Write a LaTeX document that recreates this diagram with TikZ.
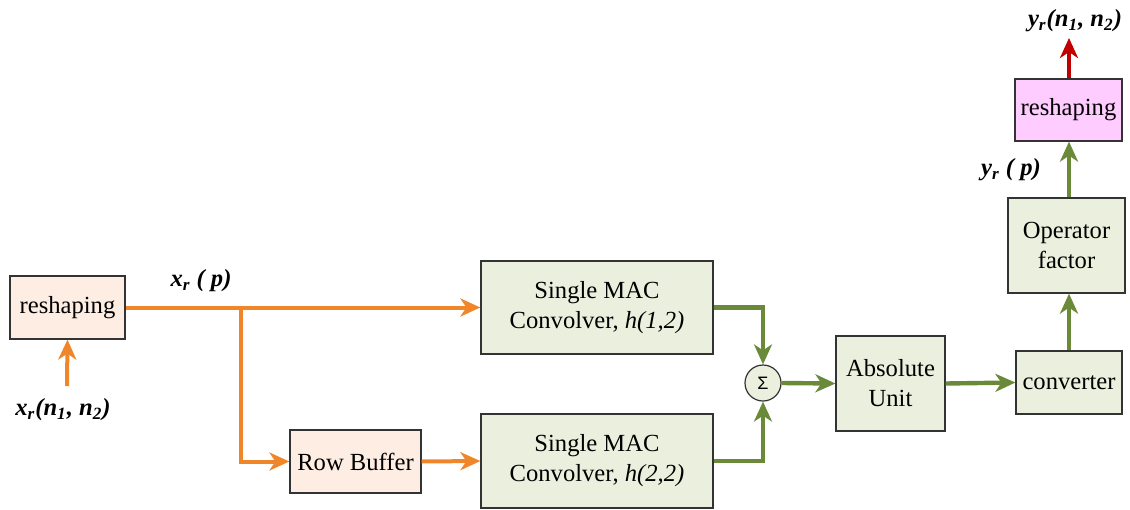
\documentclass[tikz,border=0pt]{standalone}
\usepackage{fontspec}
\setmainfont{Liberation Serif}
\newfontfamily\sigmafont{Liberation Sans}
\usetikzlibrary{arrows.meta}

\definecolor{orangeline}{HTML}{F0862A}
\definecolor{greenline}{HTML}{6A8A3A}
\definecolor{peachfill}{HTML}{FDEDE2}
\definecolor{sagefill}{HTML}{EBF0DE}
\definecolor{pinkfill}{HTML}{FFCCFF}
\definecolor{redline}{HTML}{C00000}

\begin{document}
\begin{tikzpicture}[x=0.5pt,y=-0.5pt,
        font=\fontsize{12.3}{15}\selectfont,
        block/.style={draw=black!80,line width=0.6pt,align=center,inner sep=0pt},
        inblock/.style={block,fill=peachfill},
        macblock/.style={block,fill=sagefill},
        outblock/.style={block,fill=pinkfill},
        sumnode/.style={draw=black!80,circle,line width=0.6pt,fill=sagefill,minimum size=18pt,inner sep=0pt},
        orangearrow/.style={orangeline,line width=2pt,-{Stealth[length=10pt,width=9pt,inset=3pt]}},
        greenarrow/.style={greenline,line width=2.2pt,-{Stealth[length=10pt,width=9pt,inset=3pt]}},
        redarrow/.style={redline,line width=2.2pt,-{Stealth[length=10pt,width=9pt,inset=3pt]}},
        siglabel/.style={font=\fontsize{12.3}{15}\selectfont\bfseries\itshape}
    ]
    \useasboundingbox (0,0) rectangle (1130,509);

    % blocks
    \node[inblock,minimum width=57.5pt,minimum height=31.5pt] (reshapeIn) at (67.5,307.5) {reshaping};
    \node[inblock,minimum width=65.5pt,minimum height=31.5pt] (rowbuf) at (355.5,461.5) {Row Buffer};
    \node[macblock,minimum width=116pt,minimum height=46.5pt] (macA) at (597,307.5) {Single MAC\\Convolver, \textit{h(1,2)}};
    \node[macblock,minimum width=116pt,minimum height=47pt] (macB) at (597,461) {Single MAC\\Convolver, \textit{h(2,2)}};
    \node[sumnode] (sum) at (763,383) {\sigmafont\fontsize{9}{9}\selectfont Σ};
    \node[macblock,minimum width=54.5pt,minimum height=47.5pt] (absunit) at (890.5,383.5) {Absolute\\Unit};
    \node[macblock,minimum width=53pt,minimum height=31.5pt] (conv) at (1069,382.5) {converter};
    \node[macblock,minimum width=58.5pt,minimum height=47.5pt] (opfactor) at (1066.5,245.5) {Operator\\factor};
    \node[outblock,minimum width=53.5pt,minimum height=31pt] (reshapeOut) at (1068.5,110) {reshaping};

    % signal labels
    \node[siglabel] (xin) at (63,410) {x\textsubscript{r}(n\textsubscript{1}, n\textsubscript{2})};
    \node[siglabel] (xp) at (201,281) {x\textsubscript{r} ( p)};
    \node[siglabel] (yp) at (1011,170) {y\textsubscript{r} ( p)};
    \node[siglabel] (yout) at (1075,21) {y\textsubscript{r}(n\textsubscript{1}, n\textsubscript{2})};

    \coordinate (xstart) at (67,386);
    \coordinate (split) at (241,308);
    \coordinate (yend) at (1069,38);

    % orange paths
    \draw[orangearrow] (xstart) -- (reshapeIn.south);
    \draw[orangearrow] (reshapeIn.east) -- (macA.west);
    \draw[orangearrow] (split) |- (rowbuf.west);
    \draw[orangearrow] (rowbuf.east) -- (macB.west);

    % green paths
    \draw[greenarrow] (macA.east) -| (sum.north);
    \draw[greenarrow] (macB.east) -| (sum.south);
    \draw[greenarrow] (sum.east) -- (absunit.west);
    \draw[greenarrow] (absunit.east) -- (conv.west);
    \draw[greenarrow] (conv.north) -- (opfactor.south -| conv.north);
    \draw[greenarrow] (opfactor.north -| conv.north) -- (reshapeOut.south -| conv.north);

    % output
    \draw[redarrow] (reshapeOut.north -| conv.north) -- (yend);
\end{tikzpicture}
\end{document}
